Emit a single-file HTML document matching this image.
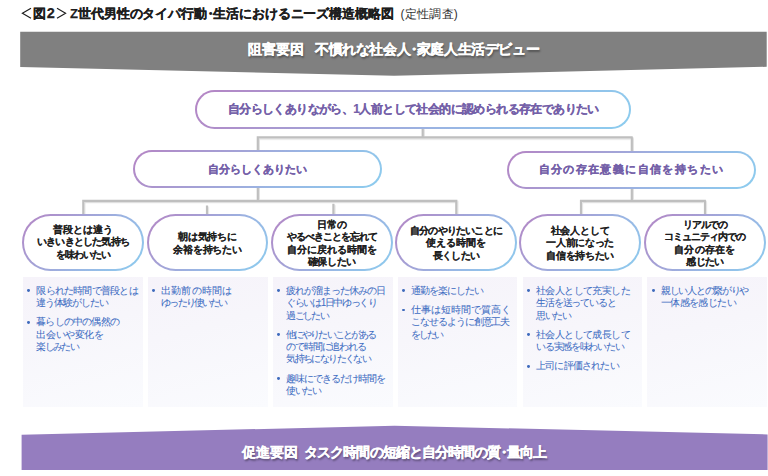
<!DOCTYPE html>
<html lang="ja">
<head>
<meta charset="utf-8">
<style>
html,body{margin:0;padding:0;background:#fff;}
body{width:768px;height:476px;position:relative;overflow:hidden;font-family:"Liberation Sans",sans-serif;}
.abs{position:absolute;}
.title{top:5px;font-size:13px;font-weight:bold;color:#1e1e1e;white-space:nowrap;-webkit-text-stroke:0.25px #1e1e1e;letter-spacing:-0.3px;}
#t1{left:33px;}
#title{left:70px;letter-spacing:-0.08px;}
#title .sm{font-size:12px;font-weight:normal;color:#333;margin-left:6.5px;-webkit-text-stroke:0;letter-spacing:0.3px;}
svg.bg{position:absolute;left:0;top:0;}
.btxt{position:absolute;color:#fff;font-weight:bold;font-size:14px;white-space:nowrap;text-shadow:1px 1.5px 2px rgba(0,0,0,.4);-webkit-text-stroke:0.3px #fff;}
.pill{position:absolute;box-sizing:border-box;border:2.4px solid transparent;border-radius:40px;
 background:linear-gradient(#fff,#fff) padding-box,linear-gradient(135deg,#b584c4 0%,#a69dd3 30%,#9ab5e3 60%,#8ccdef 100%) border-box;
 display:flex;align-items:center;justify-content:center;text-align:center;font-weight:bold;white-space:nowrap;}
.p1{color:#7460a8;font-size:11px;-webkit-text-stroke:0.2px #7460a8;}
.p3{color:#1e1e1e;font-size:10.2px;line-height:12.4px;border-radius:30px;-webkit-text-stroke:0.05px #1e1e1e;letter-spacing:-0.15px;}
.lbox{position:absolute;top:276.5px;height:130.8px;width:119.8px;box-sizing:border-box;
 background:linear-gradient(165deg,#f6f3fa 0%,#f7f6fb 40%,#fafbfe 100%);padding:8.2px 0 0 6px;}
.lbox ul{margin:0;padding:0;list-style:none;}
.lbox li{position:relative;padding-left:7.5px;color:#3d6cc2;-webkit-text-stroke:0.05px #3d6cc2;font-size:10px;line-height:12.4px;margin-bottom:6.7px;white-space:nowrap;letter-spacing:-0.7px;}
.lbox li:before{content:"";position:absolute;left:-1.6px;top:4.8px;width:2.9px;height:2.9px;border-radius:50%;background:#3f6bbd;}
</style>
</head>
<body>
<svg class="abs" style="left:0;top:0" width="80" height="24" viewBox="0 0 80 24"><g fill="none" stroke="#1e1e1e" stroke-width="1.15" stroke-linecap="butt"><polyline points="31,8.3 22.4,13.3 31,18.3"/><polyline points="57,8.3 65.6,13.3 57,18.3"/></g></svg>
<div id="t1" class="abs title">図<span style="font-size:14.5px;margin-left:1px">2</span></div>
<div id="title" class="abs title">Z世代男性のタイパ行動<span style="margin:0 -3.5px">・</span>生活におけるニーズ構造概略図<span class="sm">(定性調査)</span></div>

<svg class="bg" width="768" height="476" viewBox="0 0 768 476">
 <defs>
  <filter id="sh" x="-5%" y="-20%" width="110%" height="160%"><feDropShadow dx="1" dy="1.2" stdDeviation="0.6" flood-color="#000" flood-opacity="0.12"/></filter>
 </defs>
 <polygon points="20.2,31.7 766.7,31.7 766.7,66.8 394,75.8 20.2,67" fill="#808080"/>
 <polygon points="21.6,434.8 394.5,425.7 767.6,434.4 767.6,470.1 21.6,470.1" fill="#957dbf"/>
 <g stroke="#bfbfbf" stroke-width="2.2" fill="none" filter="url(#sh)">
  <path d="M422.7 128 V137.3 M256.7 137.3 H632.7 M257.8 137.3 V200.9 M631.8 137.3 V200.9"/>
  <path d="M83.3 214 V200.9 H457.4 M456.3 200.9 V214 M207 205.5 V214 M333.4 203.8 V214"/>
  <path d="M581 214 V200.9 H705.9 M705 200.9 V214"/>
 </g>
</svg>

<div class="btxt" style="left:248px;top:41px;">阻害要因<span style="margin-left:11px;letter-spacing:-0.4px">不慣れな社会人<span style="margin:0 -3.5px">・</span>家庭人生活デビュー</span></div>
<div class="btxt" style="left:241.5px;top:443.5px;">促進要因<span style="margin-left:6.5px;letter-spacing:-0.9px">タスク時間の短縮と自分時間の質<span style="margin:0 -3.5px">・</span>量向上</span></div>

<div class="pill p1" style="left:195.4px;top:90.2px;width:435.8px;height:38.4px;font-size:12px;letter-spacing:-0.6px;"><div>自分らしくありながら、1人前として社会的に認められる存在でありたい</div></div>
<div class="pill p1" style="left:133px;top:150.3px;width:249px;height:38px;"><div>自分らしくありたい</div></div>
<div class="pill p1" style="left:507px;top:150.5px;width:249px;height:38px;letter-spacing:1.4px;"><div>自分の存在意義に自信を持ちたい</div></div>

<div class="pill p3" style="left:22.2px;top:214px;width:121.8px;height:57.3px;"><div><span class="ln" style="letter-spacing:-0.12px">普段とは違う</span><br><span class="ln" style="letter-spacing:-0.80px">いきいきとした気持ち</span><br><span class="ln" style="letter-spacing:-0.88px">を味わいたい</span></div></div>
<div class="pill p3" style="left:146.55px;top:214px;width:121.8px;height:57.3px;padding-top:2px;"><div><span class="ln" style="letter-spacing:-0.12px">朝は気持ちに</span><br><span class="ln" style="letter-spacing:-0.29px">余裕を持ちたい</span></div></div>
<div class="pill p3" style="left:271px;top:214px;width:121.8px;height:57.3px;padding-top:2px;"><div><span class="ln" style="letter-spacing:0.25px">日常の</span><br><span class="ln" style="letter-spacing:-1.02px">やるべきことを忘れて</span><br><span class="ln" style="letter-spacing:0.00px">自分に戻れる時間を</span><br><span class="ln" style="letter-spacing:-0.35px">確保したい</span></div></div>
<div class="pill p3" style="left:395.1px;top:214px;width:121.8px;height:57.3px;padding-top:2px;"><div><span class="ln" style="letter-spacing:-0.80px">自分のやりたいことに</span><br><span class="ln" style="letter-spacing:-0.12px">使える時間を</span><br><span class="ln" style="letter-spacing:-0.80px">長くしたい</span></div></div>
<div class="pill p3" style="left:519.3px;top:214px;width:121.8px;height:57.3px;padding-top:2px;"><div><span class="ln" style="letter-spacing:-0.12px">社会人として</span><br><span class="ln" style="letter-spacing:-0.29px">一人前になった</span><br><span class="ln" style="letter-spacing:-0.29px">自信を持ちたい</span></div></div>
<div class="pill p3" style="left:644.1px;top:214px;width:121.8px;height:57.3px;padding-top:2px;"><div><span class="ln" style="letter-spacing:-1.25px">リアルでの</span><br><span class="ln" style="letter-spacing:-1.00px">コミュニティ内での</span><br><span class="ln" style="letter-spacing:0.25px">自分の存在を</span><br><span class="ln" style="letter-spacing:-0.69px">感じたい</span></div></div>

<div class="lbox" style="left:22.8px;"><ul><li><span class="ln" style="letter-spacing:-0.77px">限られた時間で普段とは</span><br><span class="ln" style="letter-spacing:-1.03px">違う体験がしたい</span></li><li><span class="ln" style="letter-spacing:-0.81px">暮らしの中の偶然の</span><br><span class="ln" style="letter-spacing:-0.39px">出会いや変化を</span><br><span class="ln" style="letter-spacing:-1.60px">楽しみたい</span></li></ul></div>
<div class="lbox" style="left:147.8px;"><ul><li><span class="ln" style="letter-spacing:0.07px">出勤前の時間は</span><br><span class="ln" style="letter-spacing:-1.84px">ゆったり使いたい</span></li></ul></div>
<div class="lbox" style="left:272.8px;"><ul><li><span class="ln" style="letter-spacing:-1.07px">疲れが溜まった休みの日</span><br><span class="ln" style="letter-spacing:-1.41px">ぐらいは1日中ゆっくり</span><br><span class="ln" style="letter-spacing:-1.60px">過ごしたい</span></li><li><span class="ln" style="letter-spacing:-1.95px">他にやりたいことがある</span><br><span class="ln" style="letter-spacing:-1.17px">ので時間に追われる</span><br><span class="ln" style="letter-spacing:-1.60px">気持ちになりたくない</span></li><li><span class="ln" style="letter-spacing:-1.07px">趣味にできるだけ時間を</span><br><span class="ln" style="letter-spacing:-1.44px">使いたい</span></li></ul></div>
<div class="lbox" style="left:397.6px;"><ul><li><span class="ln" style="letter-spacing:-1.03px">通勤を楽にしたい</span></li><li><span class="ln" style="letter-spacing:0.03px">仕事は短時間で質高く</span><br><span class="ln" style="letter-spacing:-1.07px">こなせるように創意工夫</span><br><span class="ln" style="letter-spacing:-2.25px">をしたい</span></li></ul></div>
<div class="lbox" style="left:522.6px;"><ul><li><span class="ln" style="letter-spacing:-0.62px">社会人として充実した</span><br><span class="ln" style="letter-spacing:-1.17px">生活を送っていると</span><br><span class="ln" style="letter-spacing:-1.44px">思いたい</span></li><li><span class="ln" style="letter-spacing:-0.62px">社会人として成長して</span><br><span class="ln" style="letter-spacing:-1.27px">いる実感を味わいたい</span></li><li><span class="ln" style="letter-spacing:-0.81px">上司に評価されたい</span></li></ul></div>
<div class="lbox" style="left:647.4px;"><ul><li><span class="ln" style="letter-spacing:-1.27px">親しい人との繋がりや</span><br><span class="ln" style="letter-spacing:-0.62px">一体感を感じたい</span></li></ul></div>
</body>
</html>
